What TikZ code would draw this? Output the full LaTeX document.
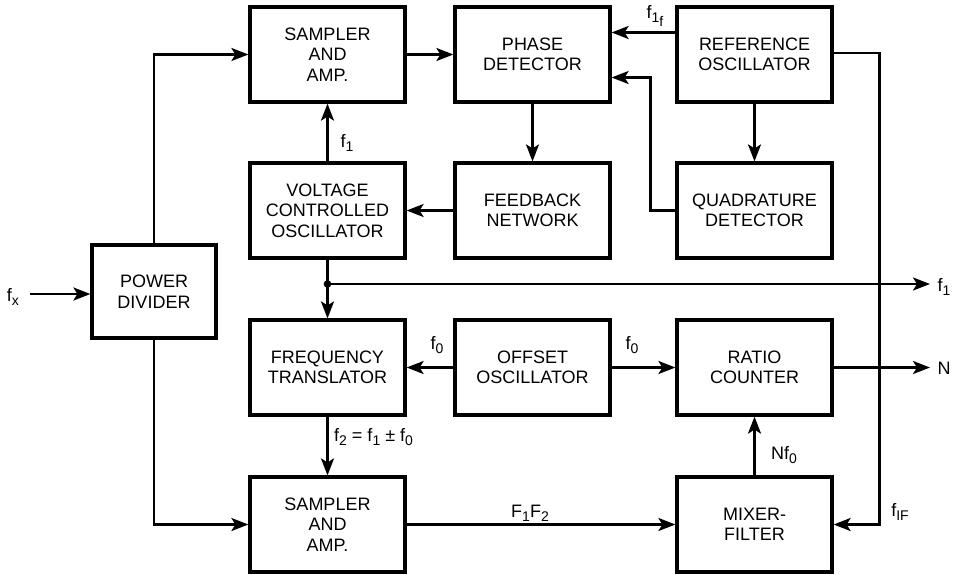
\documentclass[tikz,border=0pt]{standalone}
\usepackage{fontspec}
\setmainfont{Liberation Sans}
\usetikzlibrary{arrows.meta}
\newcommand{\sbs}[1]{\raisebox{-4pt}{\fontsize{14}{14}\selectfont #1}}
\tikzset{
  blk/.style={draw, line width=3.2pt, minimum width=155pt, minimum height=95pt, inner sep=0pt, align=center, font=\fontsize{18}{20.5}\selectfont},
  conn/.style={line width=2.4pt, -{Stealth[length=17pt,width=13pt,inset=4pt]}},
  line/.style={line width=2.4pt},
  lbl/.style={font=\fontsize{18}{20}\selectfont, inner sep=0pt},
}
\begin{document}
\begin{tikzpicture}[x=1pt,y=-1pt]
\useasboundingbox (0,0) rectangle (953,574);
\fill[white] (0,0) rectangle (953,574);
\node[blk] (sa1) at (327.5,54.5) {SAMPLER\\AND\\AMP.};
\node[blk] (pd) at (532.5,54.5) {PHASE\\DETECTOR};
\node[blk] (ro) at (754.5,54.5) {REFERENCE\\OSCILLATOR};
\node[blk] (vco) at (327.5,210.5) {VOLTAGE\\CONTROLLED\\OSCILLATOR};
\node[blk] (fn) at (532.5,210.5) {FEEDBACK\\NETWORK};
\node[blk] (qd) at (754.5,210.5) {QUADRATURE\\DETECTOR};
\node[blk, minimum width=124pt, minimum height=93pt] (pwr) at (154,291.5) {POWER\\DIVIDER};
\node[blk] (ft) at (327.5,367.5) {FREQUENCY\\TRANSLATOR};
\node[blk] (oo) at (532.5,367.5) {OFFSET\\OSCILLATOR};
\node[blk] (rc) at (754.5,367.5) {RATIO\\COUNTER};
\node[blk] (sa2) at (327.5,524.5) {SAMPLER\\AND\\AMP.};
\node[blk] (mf) at (754.5,524.5) {MIXER-\\FILTER};

\coordinate (fxin) at (30,294);
\coordinate (dot) at (327.5,284);
\coordinate (f1out) at (930,284);
\coordinate (nout) at (930,367.5);

% input
\draw[conn] (fxin) -- (fxin -| pwr.west);
\node[lbl] (fx) at (13,297) {f\sbs{x}};
% power divider to samplers
\draw[conn] (pwr.north) |- (sa1.west);
\draw[conn] (pwr.south) |- (sa2.west);
% top row
\draw[conn] (sa1.east) -- (pd.west);
\draw[conn] ([yshift=22pt]ro.west) -- ([yshift=22pt]ro.west -| pd.east);
\node[lbl] (f1f) at (655,16) {f\sbs{1\sbs{f}}};
\draw[conn] (ro.south) -- (qd.north);
\draw[conn] (pd.south) -- (fn.north);
\draw[conn] (qd.west) -- ++(-25,0) |- ([yshift=-23pt]pd.east);
\draw[conn] (fn.west) -- (vco.east);
\draw[conn] (vco.north) -- (sa1.south);
\node[lbl] (f1a) at (347,143) {f\sbs{1}};
% VCO output
\draw[line] (vco.south) -- (dot);
\fill (dot) circle (3.8pt);
\draw[conn] (dot) -- (ft.north);
\draw[conn] (dot) -- (f1out);
\node[lbl] (f1b) at (944,287) {f\sbs{1}};
% offset oscillator
\draw[conn] (oo.west) -- (ft.east);
\draw[conn] (oo.east) -- (rc.west);
\node[lbl] (f0a) at (437,345) {f\sbs{0}};
\node[lbl] (f0b) at (632,345) {f\sbs{0}};
\draw[conn] (rc.east) -- (nout);
\node[lbl] (n) at (944,368) {N};
% translator to sampler
\draw[conn] (ft.south) -- (sa2.north);
\node[lbl, anchor=west] (f2) at (334,437) {f\sbs{2} = f\sbs{1} ± f\sbs{0}};
% bottom row
\draw[conn] (sa2.east) -- (mf.west);
\node[lbl] (f1f2) at (530,513) {F\sbs{1}F\sbs{2}};
\draw[conn] (mf.north) -- (rc.south);
\node[lbl] (nf0) at (784,455) {Nf\sbs{0}};
% reference to mixer
\draw[conn] ([yshift=1.5pt]ro.east) -- ++(46,0) |- (mf.east);
\node[lbl] (fif) at (900,512) {f\sbs{IF}};
\end{tikzpicture}
\end{document}
